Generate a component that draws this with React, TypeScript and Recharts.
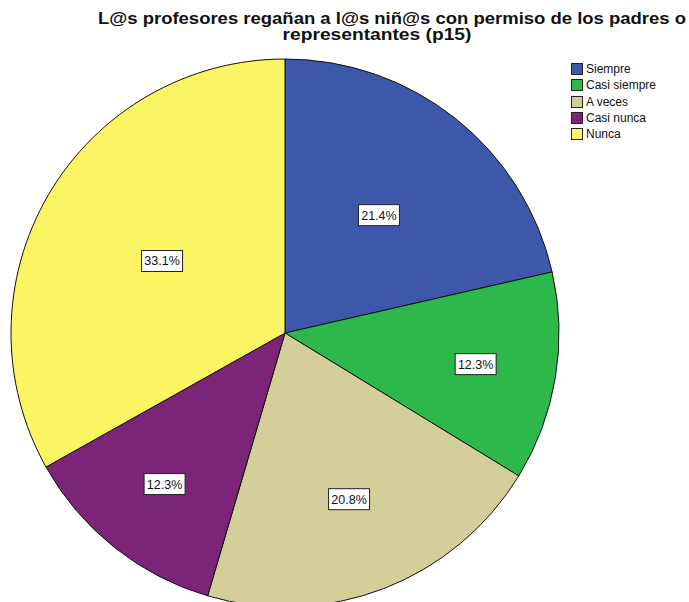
import { PieChart, Pie, Cell, Legend } from 'recharts'

const categories = ['Siempre', 'Casi siempre', 'A veces', 'Casi nunca', 'Nunca']
const percents = [21.4, 12.3, 20.8, 12.3, 33.1]
const titleLines = ['L@s profesores regañan a l@s niñ@s con permiso de los padres o', 'representantes (p15)']

const colors = ['#3d58ab', '#2cb84b', '#d4cf98', '#7b2478', '#fbf564']
// how far out each percentage box sits, as a share of the radius
const labelRadius = [0.55, 0.705, 0.65, 0.705, 0.52]

const data = categories.map((name, i) => ({ name, value: percents[i] }))

const FONT = '"Liberation Sans", Arial, sans-serif'
const RAD = Math.PI / 180

function renderLabel(props: any) {
  const { cx, cy, midAngle, outerRadius, index, value } = props
  const r = outerRadius * labelRadius[index]
  const x = cx + r * Math.cos(-midAngle * RAD)
  const y = cy + r * Math.sin(-midAngle * RAD)
  const w = 41
  const h = 21
  return (
    <g>
      <rect x={x - w / 2} y={y - h / 2} width={w} height={h} fill="#fff" stroke="#222" strokeWidth={1} />
      <text x={x} y={y + 4.5} textAnchor="middle" fontFamily={FONT} fontSize={12.5} fill="#111">
        {value.toFixed(1)}%
      </text>
    </g>
  )
}

function renderLegend() {
  return (
    <div style={{ fontFamily: FONT, fontSize: 12, color: '#111' }}>
      {categories.map((name, i) => (
        <div key={name} style={{ display: 'flex', alignItems: 'center', height: 16.3 }}>
          <span
            style={{
              display: 'inline-block',
              width: 10,
              height: 10,
              background: colors[i],
              border: '1px solid #222',
              marginRight: 3
            }}
          />
          {name}
        </div>
      ))}
    </div>
  )
}

const titleStyle = {
  position: 'absolute' as const,
  textAlign: 'center' as const,
  fontFamily: FONT,
  fontWeight: 'bold',
  fontSize: 16,
  lineHeight: '16px',
  color: '#111',
  whiteSpace: 'nowrap' as const,
  transformOrigin: 'center'
}

export default function App() {
  return (
    <div style={{ position: 'absolute', left: 0, top: 0, width: 689, height: 602, background: '#fff', overflow: 'hidden' }}>
      <div style={{ ...titleStyle, left: 392 - 300, top: 11, width: 600, transform: 'scaleX(1.155)' }}>
        {titleLines[0]}
      </div>
      <div style={{ ...titleStyle, left: 377 - 150, top: 27, width: 300, transform: 'scaleX(1.2)' }}>
        {titleLines[1]}
      </div>
      <PieChart width={689} height={602} margin={{ top: 0, right: 0, bottom: 0, left: 0 }}>
        <Pie
          data={data}
          dataKey="value"
          nameKey="name"
          cx={285}
          cy={333}
          outerRadius={274}
          startAngle={90}
          endAngle={-270}
          stroke="#111"
          strokeWidth={1}
          label={renderLabel}
          labelLine={false}
          isAnimationActive={false}
        >
          {data.map((d, i) => (
            <Cell key={d.name} fill={colors[i]} />
          ))}
        </Pie>
        <Legend
          content={renderLegend}
          layout="vertical"
          verticalAlign="top"
          align="right"
          wrapperStyle={{ position: 'absolute', left: 571, top: 61, width: 110 }}
        />
      </PieChart>
    </div>
  )
}
